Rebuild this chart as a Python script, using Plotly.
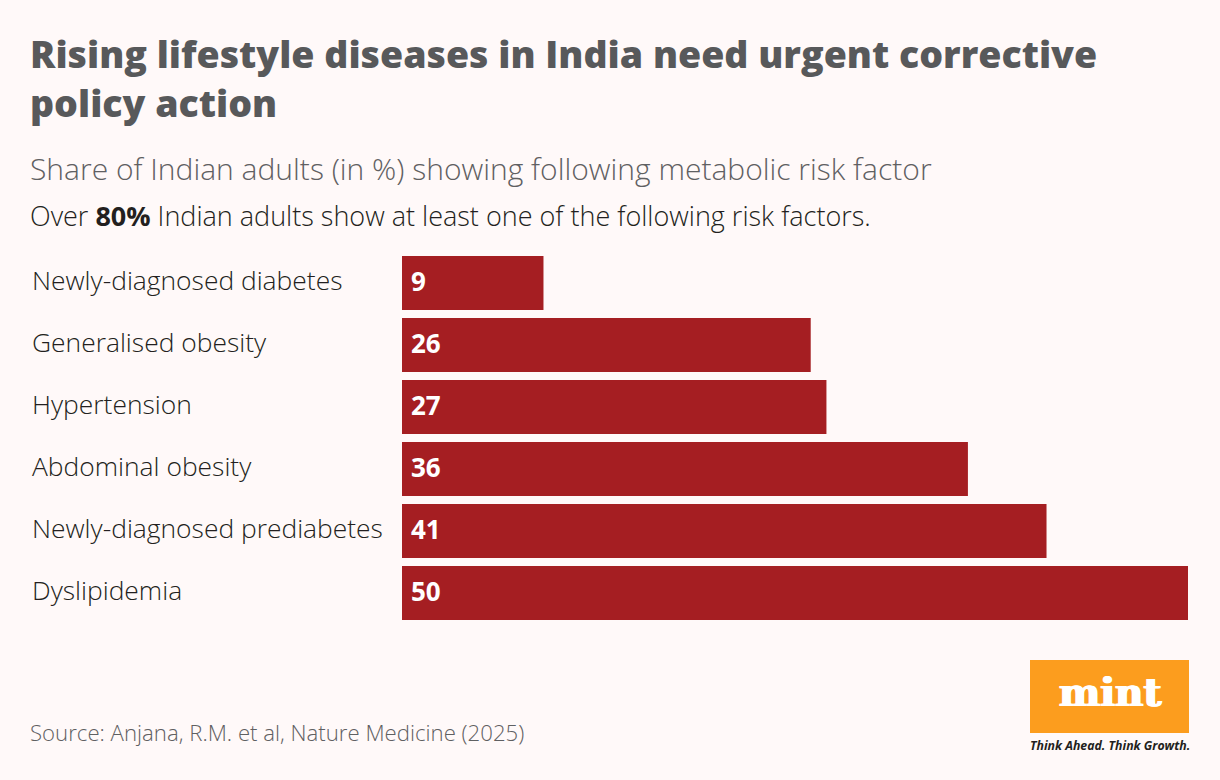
import plotly.graph_objects as go

categories = ["Newly-diagnosed diabetes", "Generalised obesity", "Hypertension",
              "Abdominal obesity", "Newly-diagnosed prediabetes", "Dyslipidemia"]
values = [9, 26, 27, 36, 41, 50]

title_lines = ["Rising lifestyle diseases in India need urgent corrective", "policy action"]
subtitle = "Share of Indian adults (in %) showing following metabolic risk factor"
note = "Over <b>80%</b> Indian adults show at least one of the following risk factors."
source = "Source: Anjana, R.M. et al, Nature Medicine (2025)"

W, H = 1220, 780
L, R, T, B = 402, 32, 252, 156
FONT = "Open Sans"


# pixel position on the page -> paper coordinates
def px(x):
    return (x - L) / (W - L - R)


def py(y):
    return (H - B - y) / (H - T - B)


def text(x, y, s, size, color, weight=400, anchor="left", family=FONT, style="normal", shadow="none"):
    return dict(xref="paper", yref="paper", x=px(x), y=py(y), text=s, showarrow=False,
                xanchor=anchor, yanchor="middle", align="left", borderpad=0, borderwidth=0,
                font=dict(family=family, size=size, color=color, weight=weight, style=style, shadow=shadow))


fig = go.Figure(go.Bar(
    x=values,
    y=categories,
    orientation="h",
    marker=dict(color="#A51E22", line=dict(width=0)),
    hoverinfo="skip",
))

annotations = [
    text(30, 53, title_lines[0], 37.5, "#58595B", 800),
    text(30, 103, title_lines[1], 37.5, "#58595B", 800),
    text(30, 168, subtitle, 30, "#5F6062", 300),
    text(30, 215, note, 27, "#231F20", 300),
    text(30, 732, source, 22.2, "#5F6062", 300),
    text(1110, 692, "mint", 39, "#FFFFFF", 700, "center", "DejaVu Serif",
         shadow="1px 0 0 #FFFFFF, -1px 0 0 #FFFFFF"),
    text(1110, 745, "<b>Think Ahead. Think Growth.</b>", 12.3, "#231F20", 400, "center", FONT, "italic"),
]
for cat, val in zip(categories, values):
    label = text(32, 0, cat, 26.4, "#231F20", 300)
    label.update(yref="y", y=cat, yshift=3)
    annotations.append(label)
    annotations.append(dict(xref="x", yref="y", x=0, y=cat, text=str(val), showarrow=False,
                            xanchor="left", xshift=9, yshift=2, yanchor="middle", borderpad=0, borderwidth=0,
                            font=dict(family=FONT, size=26, color="#FFFFFF", weight=700)))

fig.update_layout(
    width=W,
    height=H,
    autosize=False,
    margin=dict(l=L, r=R, t=T, b=B, pad=0),
    paper_bgcolor="#FFF9F9",
    plot_bgcolor="#FFF9F9",
    bargap=8 / 62,
    showlegend=False,
    xaxis=dict(range=[0, 50], visible=False),
    yaxis=dict(autorange="reversed", visible=False),
    annotations=annotations,
    shapes=[dict(type="rect", xref="paper", yref="paper", x0=px(1030), x1=px(1189),
                 y0=py(733), y1=py(660), fillcolor="#FC9D1E", line_width=0)],
)

fig.write_html("out.html", config={"displayModeBar": False},
               post_script="document.body.style.margin='0';")
